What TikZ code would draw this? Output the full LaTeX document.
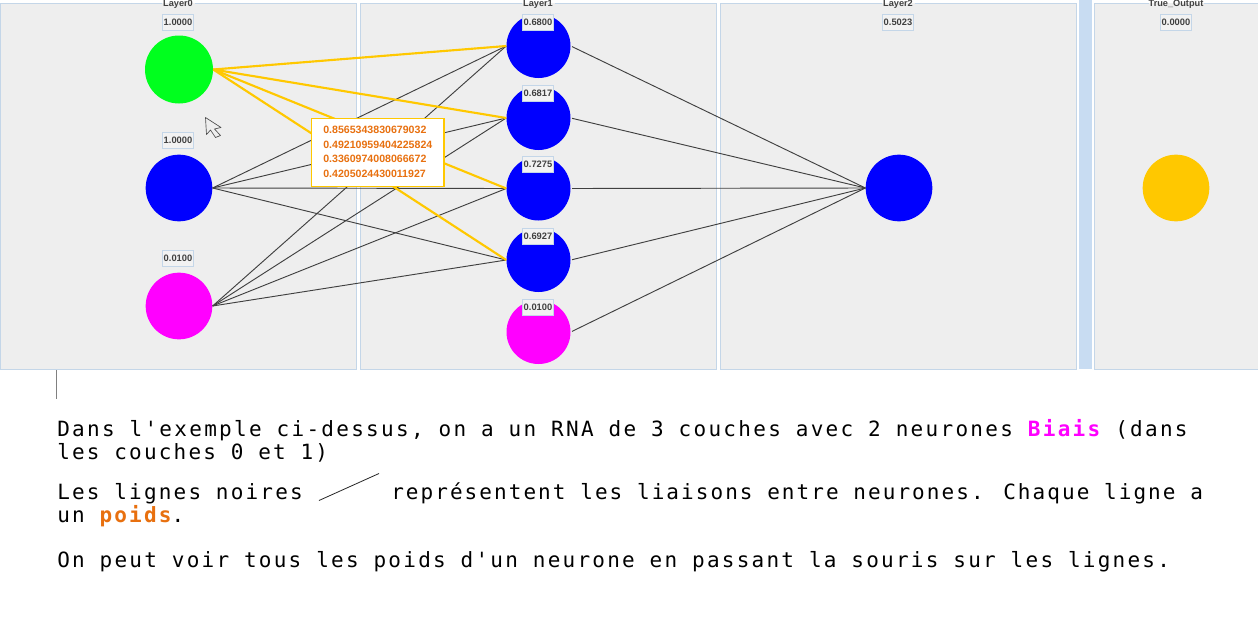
\documentclass[tikz,border=0pt]{standalone}
\usepackage{fontspec}
\setmainfont{Liberation Sans}
\newfontfamily\bodymono[LetterSpace=10.4]{DejaVu Sans Mono}
\newfontfamily\bodymonoA[LetterSpace=10.9]{DejaVu Sans Mono}
\newfontfamily\bodymonoB[LetterSpace=9.8]{DejaVu Sans Mono}
\newfontfamily\bodymonoC[LetterSpace=10.7]{DejaVu Sans Mono}
\definecolor{panelfill}{HTML}{EEEEEE}
\definecolor{panelline}{HTML}{C4D6E8}
\definecolor{splitfill}{HTML}{C8DCF2}
\definecolor{gold}{HTML}{FFC800}
\definecolor{tiporange}{HTML}{E8700F}
\definecolor{wireblack}{HTML}{404040}
\definecolor{biasmagenta}{HTML}{FF00FF}
\definecolor{purebull}{HTML}{0000FF}
\definecolor{neongreen}{HTML}{00FF1E}
\definecolor{boxfill}{HTML}{F2F2F2}
\tikzset{
  panel/.style={draw=panelline,fill=panelfill,line width=0.75pt},
  paneltitle/.style={font=\fontsize{6.9pt}{8pt}\selectfont\bfseries,text=black!75,inner sep=0pt,anchor=base},
  valuebox/.style={draw=panelline,fill=boxfill,line width=0.75pt,font=\fontsize{7pt}{8pt}\selectfont\bfseries,text=black!75,minimum width=23.5pt,minimum height=12pt,inner sep=0pt},
  neuron/.style={circle,inner sep=0pt,minimum size=50pt},
  wire/.style={draw=wireblack,line width=0.7pt},
  hotwire/.style={draw=gold,line width=1.6pt},
  bodytext/.style={font=\fontsize{15.75pt}{18pt}\bodymono,text=black,anchor=base west,inner sep=0pt},
}
\begin{document}
\begin{tikzpicture}[x=0.75pt,y=-0.75pt]
\useasboundingbox (0,0) rectangle (1258,643);
\fill[white] (0,0) rectangle (1258,643);
% panels
\path[panel] (0.5,3.5) rectangle (356.5,369);
\path[panel] (360.5,3.5) rectangle (716.5,369);
\path[panel] (720.5,3.5) rectangle (1076.5,369);
\fill[splitfill] (1079,0) rectangle (1092,369);
\path[panel] (1094.5,3.5) rectangle (1258.5,369);
% neurons
\node[neuron,fill=neongreen,minimum size=51pt] (a0) at (179,69.5) {};
\node[neuron,fill=purebull] (a1) at (179,188) {};
\node[neuron,fill=biasmagenta] (a2) at (179,306) {};
\node[neuron,fill=purebull,minimum size=48pt] (b0) at (538.5,46) {};
\node[neuron,fill=purebull,minimum size=48pt] (b1) at (538.5,118) {};
\node[neuron,fill=purebull,minimum size=48pt] (b2) at (538.5,188.5) {};
\node[neuron,fill=purebull,minimum size=48pt] (b3) at (538.5,260) {};
\node[neuron,fill=biasmagenta,minimum size=48pt] (b4) at (538.5,332) {};
\node[neuron,fill=purebull] (c0) at (899,188) {};
\node[neuron,fill=gold] (d0) at (1176,188) {};
% connectors
\foreach \s in {a1,a2}{
  \foreach \t in {b0,b1,b2,b3}{
    \draw[wire] (\s.east) -- (\t.west);
  }
}
\foreach \t in {b0,b1,b2,b3}{
  \draw[hotwire] (a0.east) -- (\t.west);
}
\foreach \s in {b0,b1,b2,b3,b4}{
  \draw[wire,shorten <=1pt] (\s.east) -- (c0.west);
}
% title gaps in the panel borders
\foreach \xa/\xb in {162/195,522/555,882/915,1149/1204}{
  \fill[white] (\xa,0) rectangle (\xb,3);
  \fill[panelfill] (\xa,3) rectangle (\xb,8);
}
% titles
\node[paneltitle] (t0) at (178,6.5) {Layer0};
\node[paneltitle] (t1) at (538,6.5) {Layer1};
\node[paneltitle] (t2) at (898,6.5) {Layer2};
\node[paneltitle] (t3) at (1176,6.5) {True\_Output};
% values
\node[valuebox] (v0) at (178,22.5) {1.0000};
\node[valuebox] (v1) at (178,140.5) {1.0000};
\node[valuebox] (v2) at (178,258.5) {0.0100};
\node[valuebox] (v3) at (538,22.5) {0.6800};
\node[valuebox] (v4) at (538,93.5) {0.6817};
\node[valuebox] (v5) at (538,164.5) {0.7275};
\node[valuebox] (v6) at (538,236) {0.6927};
\node[valuebox] (v7) at (538,307.5) {0.0100};
\node[valuebox] (v8) at (898,22.5) {0.5023};
\node[valuebox] (v9) at (1176,22.5) {0.0000};
% tooltip
\node[draw=gold,fill=white,line width=1.2pt,anchor=north west,minimum width=99.5pt,minimum height=51pt,inner sep=0pt] (tip) at (310.5,117.5) {};
\node[anchor=west,inner sep=0pt,text=tiporange,font=\fontsize{7.95pt}{10.9pt}\selectfont\bfseries,align=left] (tiptext) at (323,152) {0.8565343830679032\\0.49210959404225824\\0.3360974008066672\\0.4205024430011927};
% cursor
\draw[fill=panelfill,draw=black!70,line width=0.5pt,line join=round] (205.5,117.5) -- (221,127.5) -- (214.5,129) -- (220.5,135.5) -- (215.5,137.5) -- (210.5,130) -- (206.5,134.5) -- cycle;
% caret
\coordinate (caretA) at (56.5,370);
\coordinate (caretB) at (56.5,398.5);
\draw[draw=black!50,line width=0.75pt] (caretA) -- (caretB);
% sample line
\coordinate (sampleA) at (319,500.5);
\coordinate (sampleB) at (379,473.5);
\draw[draw=black!85,line width=0.6pt] (sampleA) -- (sampleB);
% text
\node[bodytext] (l1) at (57,436) {\bodymonoA Dans l'exemple ci-dessus, on a un RNA de 3 couches avec 2 neurones \textcolor{biasmagenta}{\bfseries Biais} (dans};
\node[bodytext] (l2) at (57,459) {les couches 0 et 1)};
\node[bodytext] (l3) at (57,499) {Les lignes noires};
\node[bodytext] (l3b) at (391,499) {\bodymonoB représentent les liaisons entre neurones. Chaque ligne a};
\node[bodytext] (l4) at (57,522.5) {un \textcolor{tiporange}{\bfseries poids}.};
\node[bodytext] (l5) at (57,567) {\bodymonoC On peut voir tous les poids d'un neurone en passant la souris sur les lignes.};
\end{tikzpicture}
\end{document}
